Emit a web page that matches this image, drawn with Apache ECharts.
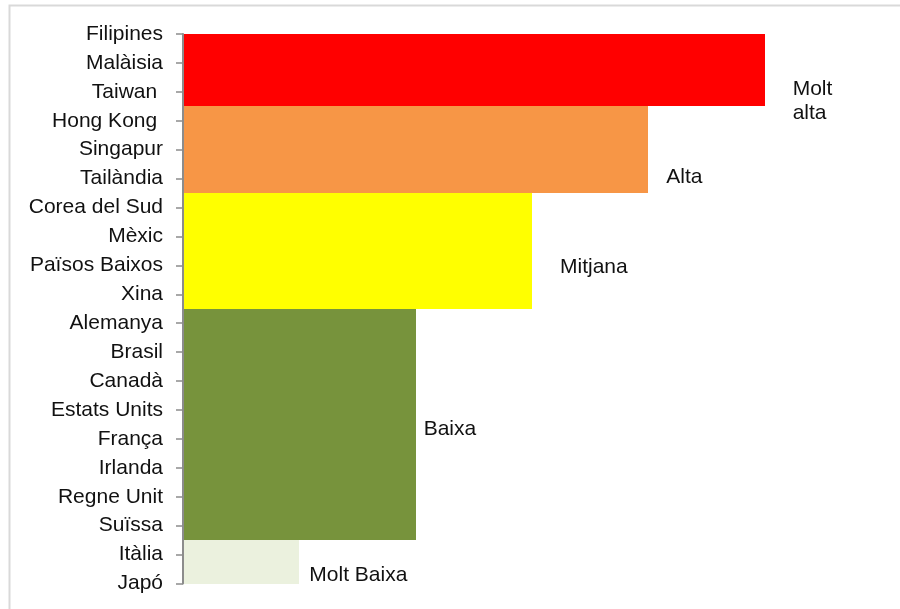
<!DOCTYPE html>
<html>
<head>
<meta charset="utf-8">
<style>
  html, body { margin: 0; padding: 0; background: #fff; }
  #chart { width: 900px; height: 609px; }
</style>
<script src="https://cdn.jsdelivr.net/npm/echarts@6/dist/echarts.min.js"></script>
</head>
<body>
<div id="chart"></div>
<script>
// Countries, top to bottom
const countries = [
  'Filipines', 'Malàisia', 'Taiwan ', 'Hong Kong ', 'Singapur', 'Tailàndia',
  'Corea del Sud', 'Mèxic', 'Països Baixos', 'Xina',
  'Alemanya', 'Brasil', 'Canadà', 'Estats Units', 'França', 'Irlanda', 'Regne Unit', 'Suïssa',
  'Itàlia', 'Japó'
];
// Risk level per country (1 = Molt Baixa ... 5 = Molt alta)
const levels = [
  5, 5, 5, 4, 4, 4,
  3, 3, 3, 3,
  2, 2, 2, 2, 2, 2, 2, 2,
  1, 1
];
// Level names and colours
const levelNames = { 5: 'Molt\nalta', 4: 'Alta', 3: 'Mitjana', 2: 'Baixa', 1: 'Molt Baixa' };
const levelColors = { 5: '#FF0000', 4: '#F79646', 3: '#FFFF00', 2: '#77933C', 1: '#EBF1DE' };
// Country whose bar carries each level's name, and where the name sits
const labelAt = {
  'Taiwan ':       { dx: 28, dy: 9 },
  'Tailàndia':     { dx: 18, dy: -1 },
  'Països Baixos': { dx: 28, dy: 2 },
  'França':        { dx: 8,  dy: -10 },
  'Itàlia':        { dx: 10, dy: 21 }
};

const FONT = 'Liberation Sans, Arial, sans-serif';
const FONT_SIZE = 21;

// Each bar is centred on its tick; bars at the ends are cut at the plot edge
function renderBar(params, api) {
  const idx = api.value(0);
  const val = api.value(1);
  const name = countries[idx];
  const start = api.coord([0, idx]);
  const end = api.coord([val, idx]);
  const band = api.size([0, 1])[1];
  const cs = params.coordSys;
  let top = Math.max(start[1] - band / 2, cs.y);
  let bottom = Math.min(start[1] + band / 2, cs.y + cs.height);
  top = Math.round(top);
  bottom = Math.round(bottom);
  const x0 = Math.round(start[0]);
  const x1 = Math.round(end[0]);
  const children = [{
    type: 'rect',
    shape: { x: x0, y: top, width: x1 - x0, height: bottom - top },
    style: { fill: levelColors[val] }
  }];
  const lab = labelAt[name];
  if (lab) {
    children.push({
      type: 'text',
      x: end[0] + lab.dx,
      y: start[1] + lab.dy,
      style: {
        text: levelNames[val],
        fontFamily: FONT,
        fontSize: FONT_SIZE,
        lineHeight: 24,
        fill: '#111',
        align: 'left',
        verticalAlign: 'middle'
      }
    });
  }
  return { type: 'group', children: children };
}

const chart = echarts.init(document.getElementById('chart'), null, { renderer: 'canvas' });
chart.setOption({
  animation: false,
  backgroundColor: '#fff',
  graphic: [{
    type: 'rect',
    shape: { x: 9.5, y: 5.5, width: 1000, height: 1000 },
    style: { fill: 'none', stroke: '#d9d9d9', lineWidth: 2 },
    silent: true,
    z: -10
  }],
  grid: { left: 183, top: 34, right: 19, bottom: 25.5, containLabel: false },
  xAxis: {
    type: 'value',
    min: 0,
    max: 6,
    show: false
  },
  yAxis: {
    type: 'category',
    inverse: true,
    boundaryGap: false,
    data: countries,
    z: 10,
    axisLine: { show: true, lineStyle: { color: '#8c8c8c', width: 2 } },
    axisTick: { show: true, length: 7, inside: false, alignWithLabel: true, lineStyle: { color: '#8c8c8c', width: 1.5 } },
    axisLabel: { margin: 20, fontFamily: FONT, fontSize: FONT_SIZE, color: '#111', interval: 0, padding: [3, 0, 0, 0] },
    splitLine: { show: false }
  },
  series: [{
    type: 'custom',
    renderItem: renderBar,
    encode: { y: 0, x: 1 },
    data: levels.map((v, i) => [i, v]),
    clip: false,
    z: 2
  }]
});
</script>
</body>
</html>
